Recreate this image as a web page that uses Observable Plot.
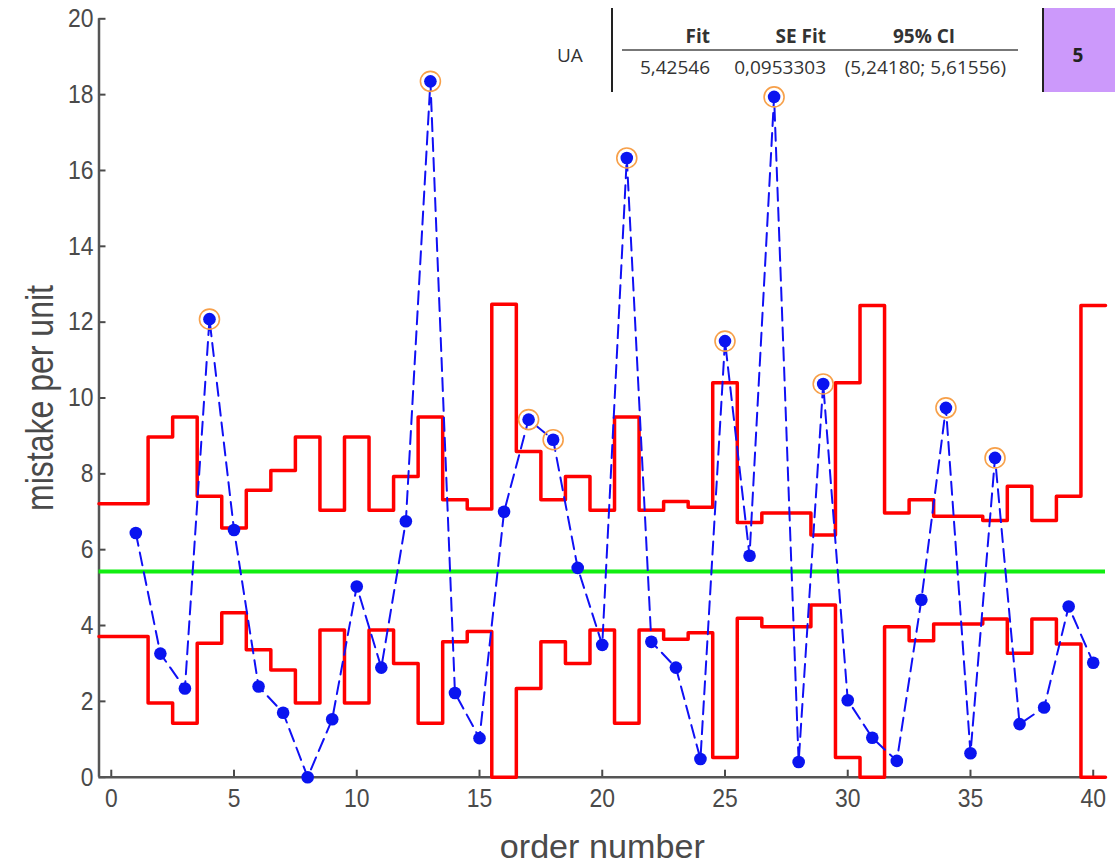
<!DOCTYPE html>
<html><head><meta charset="utf-8">
<script src="https://cdn.jsdelivr.net/npm/d3@7"></script>
<script src="https://cdn.jsdelivr.net/npm/@observablehq/plot@0.6"></script>
<style>
body{margin:0;background:#fff;}
#wrap{position:relative;width:1115px;height:867px;overflow:hidden;}
.t{position:absolute;font-family:"Open Sans","Noto Sans",sans-serif;font-size:19px;color:#333;white-space:nowrap;line-height:20px;height:20px;}
.b{font-weight:bold;}
</style></head><body><div id="wrap"></div>
<script>
// ---- data ----
const order = d3.range(1, 41);
const mistakes = [6.44, 3.26, 2.34, 12.08, 6.52, 2.39, 1.70, 0.0, 1.53, 5.03,
                  2.89, 6.75, 18.35, 2.22, 1.03, 7.0, 9.43, 8.9, 5.52, 3.49,
                  16.33, 3.57, 2.89, 0.48, 11.5, 5.84, 17.94, 0.40, 10.37, 2.03,
                  1.04, 0.43, 4.68, 9.74, 0.63, 8.42, 1.40, 1.84, 4.50, 3.02];
const ucl = [7.21, 8.97, 9.50, 7.41, 6.57, 7.57, 8.09, 8.97, 7.04, 8.97,
             7.04, 7.93, 9.50, 7.32, 7.07, 12.47, 8.59, 7.32, 7.93, 7.04,
             9.50, 7.04, 7.27, 7.12, 10.40, 6.72, 6.97, 6.97, 6.39, 10.40,
             12.44, 6.97, 7.32, 6.88, 6.88, 6.77, 7.67, 6.77, 7.41, 12.44];
const lcl = [3.71, 1.96, 1.42, 3.53, 4.34, 3.36, 2.83, 1.96, 3.88, 1.96,
             3.88, 3.00, 1.42, 3.57, 3.84, 0, 2.34, 3.57, 3.00, 3.88,
             1.42, 3.88, 3.64, 3.81, 0.52, 4.19, 3.97, 3.97, 4.54, 0.52,
             0, 3.97, 3.60, 4.04, 4.04, 4.17, 3.27, 4.17, 3.51, 0];
const centerLine = 5.42546;
const flagged = [4, 13, 17, 18, 21, 25, 27, 29, 34, 36];
const xTicks = [0, 5, 10, 15, 20, 25, 30, 35, 40];
const yTicks = [0, 2, 4, 6, 8, 10, 12, 14, 16, 18, 20];
const xDomain = [-0.5, 40.5];
const yDomain = [0, 20];
const xTitle = "order number";
const yTitle = "mistake per unit";
const rowLabel = "UA";
const tableHeaders = ["Fit", "SE Fit", "95% CI"];
const tableValues = ["5,42546", "0,0953303", "(5,24180; 5,61556)"];
const badgeText = "5";

// ---- derived tables ----
const pts = order.map((o, i) => ({order: o, value: mistakes[i], flag: flagged.includes(o)}));
const stepPts = arr => [
  ...order.map((o, i) => ({x: i === 0 ? xDomain[0] : o - 0.5, y: arr[i]})),
  {x: xDomain[1], y: arr[arr.length - 1]}
];
const upper = stepPts(ucl), lower = stepPts(lcl);

const axisFont = "'Liberation Sans',Arial,sans-serif";
const gray = "#4a4a4a";

const chart = Plot.plot({
  width: 1115, height: 867,
  marginLeft: 98.5, marginRight: 10, marginTop: 18.3, marginBottom: 90.3,
  x: {domain: xDomain},
  y: {domain: yDomain},
  style: {fontFamily: axisFont, background: "white", overflow: "visible"},
  marks: [
    Plot.axisY(yTicks, {tickSize: -7, tickPadding: 12.5, fontSize: 26, color: gray, strokeWidth: 2, label: null}),
    Plot.axisX(xTicks, {tickSize: -7, tickPadding: 18, fontSize: 26, color: gray, strokeWidth: 2, label: null}),
    Plot.ruleX([xDomain[0]], {stroke: "#555", strokeWidth: 2.5}),
    Plot.ruleY([0], {stroke: "#555", strokeWidth: 2.5}),
    Plot.line(upper, {x: "x", y: "y", curve: "step-after", stroke: "#ff0000", strokeWidth: 3.5}),
    Plot.line(lower, {x: "x", y: "y", curve: "step-after", stroke: "#ff0000", strokeWidth: 3.5}),
    Plot.ruleY([centerLine], {stroke: "#11ee11", strokeWidth: 4}),
    Plot.line(pts, {x: "order", y: "value", stroke: "#1010f5", strokeWidth: 2, strokeDasharray: "13,7"}),
    Plot.dot(pts, {x: "order", y: "value", r: 6.3, fill: "#0a14f0"}),
    Plot.dot(pts.filter(d => d.flag), {x: "order", y: "value", r: 10, stroke: "#f7a04a", strokeWidth: 1.6, fill: "none"}),
    Plot.text([yTitle], {text: d => d, frameAnchor: "left", textAnchor: "middle", lineAnchor: "middle", dx: -58, rotate: -90, fontSize: 38, fill: gray, className: "ttl-y"}),
    Plot.text([xTitle], {text: d => d, frameAnchor: "bottom", textAnchor: "middle", lineAnchor: "middle", dy: 70, fontSize: 34, fill: gray, className: "ttl-x"})
  ]
});
const wrap = document.getElementById("wrap");
wrap.appendChild(chart);

// condense axis text to mimic the narrow font of the original
const condense = (sel, f) => chart.querySelectorAll(sel).forEach(t => {
  const L = t.getComputedTextLength();
  t.setAttribute("textLength", (L * f).toFixed(1));
  t.setAttribute("lengthAdjust", "spacingAndGlyphs");
});
condense('g[aria-label="y-axis tick label"] text', 0.88);
condense('g[aria-label="x-axis tick label"] text', 0.88);
const setLen = (sel, len) => chart.querySelectorAll(sel).forEach(t => {
  t.setAttribute("textLength", len);
  t.setAttribute("lengthAdjust", "spacingAndGlyphs");
});
setLen('.ttl-y text', 226);
setLen('.ttl-x text', 205);

// ---- table overlay ----
function box(css) { const d = document.createElement("div"); d.style.position = "absolute"; Object.assign(d.style, css); wrap.appendChild(d); return d; }
function txt(s, css, bold) { const d = document.createElement("div"); d.className = "t" + (bold ? " b" : ""); d.textContent = s; Object.assign(d.style, css); wrap.appendChild(d); return d; }
box({left: "611px", top: "8px", width: "2px", height: "84px", background: "#222"});
box({left: "622px", top: "49px", width: "396px", height: "2px", background: "#777"});
box({left: "1042px", top: "8px", width: "73px", height: "84px", background: "#cc99fb", borderLeft: "2px solid #222", boxSizing: "border-box"});
txt(rowLabel, {left: "557px", top: "45px"});
txt(tableHeaders[0], {right: (1115 - 710) + "px", top: "26px"}, true);
txt(tableHeaders[1], {right: (1115 - 826) + "px", top: "26px"}, true);
txt(tableHeaders[2], {left: "924px", top: "26px", transform: "translateX(-50%)"}, true);
txt(tableValues[0], {right: (1115 - 710) + "px", top: "57px"});
txt(tableValues[1], {right: (1115 - 826) + "px", top: "57px"});
txt(tableValues[2], {right: (1115 - 1006) + "px", top: "57px"});
txt(badgeText, {left: "1078px", top: "45px", transform: "translateX(-50%)", color: "#222"}, true);
</script></body></html>
